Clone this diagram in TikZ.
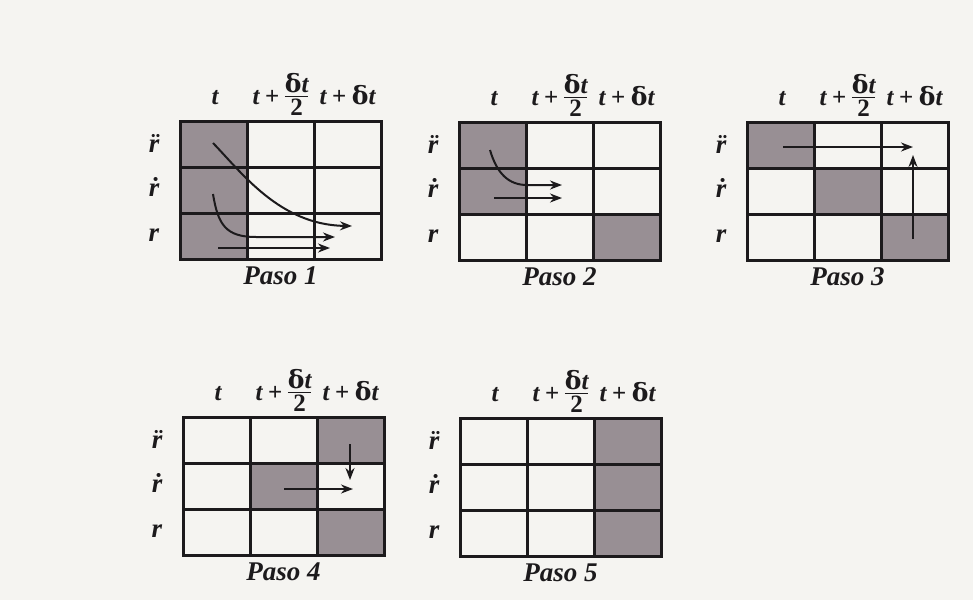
\RequirePackage{fix-cm}
\documentclass[tikz,border=0pt]{standalone}
\usepackage{amsmath}
\usepackage{fontspec}
\setmainfont{Liberation Serif}
\newfontfamily\deltafont{DejaVu Serif}
\usepackage{tikz}
\usetikzlibrary{arrows.meta}
\definecolor{paper}{RGB}{245,244,241}
\definecolor{shadecell}{RGB}{152,143,148}
\definecolor{gridink}{RGB}{28,26,28}
\tikzset{
  lbl/.style={font=\fontsize{27}{30}\selectfont\bfseries\itshape,text=gridink,inner sep=0pt},
  hdr/.style={font=\fontsize{25}{28}\selectfont\bfseries\itshape,text=gridink,inner sep=0pt,anchor=base},
  flow/.style={line width=2pt,draw=gridink,-{Stealth[length=12pt,width=9pt]}},
  gridline/.style={draw=gridink,line width=3pt},
}
\newcommand{\dlt}{{\deltafont\upshape\bfseries δ}}
\newcommand{\halffrac}{\raisebox{3pt}{$\vcenter{\offinterlineskip\halign{\hfil##\hfil\cr
  \text{\dlt}\text{t}\cr\noalign{\kern2.5pt\hrule height 1.3pt\kern2.5pt}\text{\upshape 2}\cr}}$}}
\newcommand{\pasogrid}[6]{%
  \begin{scope}[shift={(#2,#3)}]
    \foreach \c/\r in {#5} \fill[shadecell] ({(\c-1)*67},{(\r-1)*46}) rectangle ++(67,46);
    \draw[gridline] (0,0) rectangle (201,138);
    \foreach \k in {1,2} {
      \draw[gridline] (67*\k,0) -- (67*\k,138);
      \draw[gridline] (0,46*\k) -- (201,46*\k);
    }
    \node[hdr] (#1-t) at (35,-17) {t};
    \node[hdr] (#1-th) at (100.5,-17) {$\text{t}\mathbin{\text{\upshape +}}\mbox{\halffrac}$};
    \node[hdr] (#1-td) at (167.5,-17) {$\text{t}\mathbin{\text{\upshape +}}\text{\dlt}\text{t}$};
    \node[lbl,anchor=base] (#1-acc) at (-26,31) {\accent"A8 r};
    \node[lbl,anchor=base] (#1-vel) at (-26,75) {\accent"2D9 r};
    \node[lbl,anchor=base] (#1-pos) at (-26,120) {r};
    \node[lbl,anchor=base] (#1-cap) at (100.5,163) {#4};
    #6
  \end{scope}}

\begin{document}
\begin{tikzpicture}[x=1pt,y=-1pt]
  \fill[paper] (0,0) rectangle (973,600);
  \useasboundingbox (0,0) rectangle (973,600);
  \pasogrid{p1}{180}{121}{Paso 1}{1/1,1/2,1/3}{%
    \draw[flow] (33,22) .. controls (62,52) and (100,104) .. (172,105);
    \draw[flow] (33,73) .. controls (38,104) and (46,116) .. (76,116) -- (155,116);
    \draw[flow] (38,127) -- (150,127);}
  \pasogrid{p2}{459}{122}{Paso 2}{1/1,1/2,3/3}{%
    \draw[flow] (31,28) .. controls (38,52) and (50,63) .. (68,63) -- (103,63);
    \draw[flow] (35,76) -- (103,76);}
  \pasogrid{p3}{747}{122}{Paso 3}{1/1,2/2,3/3}{%
    \draw[flow] (36,25) -- (166,25);
    \draw[flow] (166,117) -- (166,33);}
  \pasogrid{p4}{183}{417}{Paso 4}{3/1,2/2,3/3}{%
    \draw[flow] (167,27) -- (167,63);
    \draw[flow] (101,72) -- (170,72);}
  \pasogrid{p5}{460}{418}{Paso 5}{3/1,3/2,3/3}{}
\end{tikzpicture}
\end{document}
